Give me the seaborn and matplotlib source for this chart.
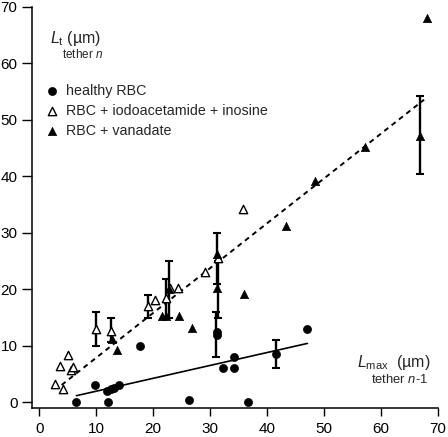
import matplotlib
matplotlib.use("Agg")
import numpy as np
import pandas as pd
import matplotlib.pyplot as plt
import seaborn as sns

# --------------------------
# Dados
# --------------------------
# healthy RBC (círculos)
healthy_x = [6.5, 9.7, 12.0, 11.8, 12.5, 13.1, 14.0, 17.6, 26.3, 31.2, 31.2, 32.3, 34.2, 34.2, 36.6, 41.5, 47.1]
healthy_y = [0.0, 3.0, 0.0, 2.0, 2.3, 2.6, 3.0, 10.0, 0.4, 12.5, 11.9, 6.0, 6.0, 8.0, 0.0, 8.5, 13.0]

# RBC + iodoacetamide + inosine (triângulos abertos)
iodo_x = [2.8, 4.1, 3.6, 5.5, 5.9, 5.1, 10.0, 12.5, 19.1, 20.3, 22.3, 23.0, 24.4, 29.1, 31.4, 35.8]
iodo_y = [3.3, 2.3, 6.4, 5.7, 6.3, 8.3, 13.0, 12.6, 17.0, 18.1, 18.4, 20.2, 20.2, 23.1, 25.5, 34.2]

# RBC + vanadate (triângulos cheios)
van_x = [12.8, 13.7, 21.6, 22.2, 24.6, 26.9, 22.8, 31.3, 31.3, 36.0, 43.3, 48.5, 57.2, 66.9, 68.1]
van_y = [11.2, 9.3, 15.2, 15.2, 15.2, 13.2, 20.0, 26.2, 20.2, 19.2, 31.2, 39.2, 45.2, 47.2, 68.1]

# médias com barras de erro
eb_x = [10.0, 12.5, 19.1, 22.3, 22.8, 31.2, 31.4, 31.1, 41.5, 66.9]
eb_y = [13.0, 12.8, 17.0, 18.4, 20.0, 25.5, 20.0, 12.0, 8.5, 47.3]
eb_err = [3.0, 2.1, 2.0, 3.5, 5.0, 4.5, 5.0, 4.0, 2.5, 6.9]

# retas de regressão: inclinação, intercepto, faixa de x
fit_tri = [0.793, -0.03, 3.9, 67.6]
fit_healthy = [0.228, -0.31, 6.5, 47.1]

legend_labels = ["healthy RBC", "RBC + iodoacetamide + inosine", "RBC + vanadate"]

# --------------------------
# Estilo
# --------------------------
sns.set_style("ticks")
plt.rcParams['font.family'] = ['Liberation Sans', 'DejaVu Sans']
plt.rcParams['mathtext.fontset'] = 'custom'
plt.rcParams['mathtext.rm'] = 'Liberation Sans'
plt.rcParams['mathtext.it'] = 'Liberation Sans:italic'

fig = plt.figure(figsize=(4.48, 4.37), dpi=100)
ax = fig.add_axes([32 / 448, 28.7 / 437, 405.7 / 448, 401.3 / 437])

# retas
for fit, estilo in [(fit_tri, (0, (2.6, 2.2))), (fit_healthy, '-')]:
    xs = np.array([fit[2], fit[3]])
    ax.plot(xs, fit[0] * xs + fit[1], color='black', linestyle=estilo,
            linewidth=1.2 if estilo == '-' else 1.4, zorder=1)

# barras de erro
ax.errorbar(eb_x, eb_y, yerr=eb_err, fmt='none', ecolor='black',
            elinewidth=1.7, capsize=3.2, capthick=1.5, zorder=2)

sns.scatterplot(x=healthy_x, y=healthy_y, ax=ax, marker='o', color='black',
                edgecolor='black', s=34, label=legend_labels[0], zorder=3)
sns.scatterplot(x=iodo_x, y=iodo_y, ax=ax, marker='^', color='white',
                edgecolor='black', linewidth=1.0, s=36, label=legend_labels[1], zorder=3)
sns.scatterplot(x=van_x, y=van_y, ax=ax, marker='^', color='black',
                edgecolor='black', s=36, label=legend_labels[2], zorder=3)

ax.set_xlim(-1.3, 70)
ax.set_ylim(-1.06, 70)
ax.set_xticks(range(0, 71, 10))
ax.set_yticks(range(0, 71, 10))
ax.tick_params(direction='out', width=1.0, labelsize=11, colors='black')
ax.tick_params(axis='x', length=5.5, pad=4.5)
ax.tick_params(axis='y', length=7.5, pad=3)
sns.despine(ax=ax)
for lado in ['left', 'bottom']:
    ax.spines[lado].set_linewidth(1.1)
    ax.spines[lado].set_color('black')
ax.set_xlabel("")
ax.set_ylabel("")

leg = ax.legend(loc='upper left', bbox_to_anchor=(0.013, 0.822), frameon=False,
                fontsize=10.3, handletextpad=0.4, labelspacing=0.42,
                handlelength=1.2, borderaxespad=0)

# rótulos dos eixos dentro do gráfico
ax.text(1.9, 63.6, r"$L_\mathrm{t}$ (µm)", fontsize=11.5, ha='left', va='baseline')
ax.text(4.0, 60.9, r"tether $n$", fontsize=8.5, ha='left', va='baseline')
ax.text(68.8, 6.3, r"$L_\mathrm{max}$  (µm)", fontsize=11.5, ha='right', va='baseline')
ax.text(68.3, 3.4, r"tether $n$-1", fontsize=9.4, ha='right', va='baseline')

plt.savefig("out.png", dpi=100)
plt.close()
